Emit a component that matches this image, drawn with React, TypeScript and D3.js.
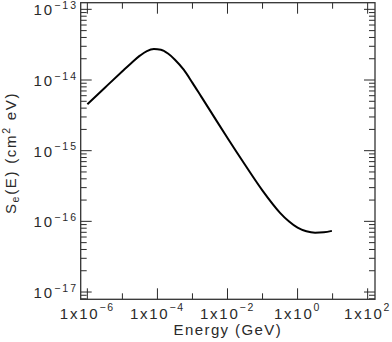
import React from "react";
import * as d3 from "d3";

// Energy (GeV) and electronic stopping S_e(E) (cm^2 eV)
const energy = [1.0e-6, 3.16e-6, 1.0e-5, 1.78e-5, 3.16e-5, 5.01e-5, 7.94e-5, 1.26e-4, 2.0e-4, 3.16e-4, 5.62e-4, 1.0e-3, 1.78e-3, 3.16e-3, 1.0e-2, 3.16e-2, 0.1, 0.316, 0.562, 1.0, 1.78, 3.16, 5.62, 9.55];
const stopping = [4.53e-15, 7.78e-15, 1.33e-14, 1.73e-14, 2.21e-14, 2.57e-14, 2.74e-14, 2.68e-14, 2.37e-14, 1.94e-14, 1.40e-14, 9.12e-15, 5.82e-15, 3.72e-15, 1.51e-15, 6.31e-16, 2.72e-16, 1.32e-16, 1.0e-16, 8.13e-17, 7.24e-17, 6.92e-17, 7.0e-17, 7.33e-17];

const xMajorExp = [-6, -4, -2, 0, 2];
const xMinorExp = [-5, -3, -1, 1];
const yMajorExp = [-13, -14, -15, -16, -17];

const W = 392, H = 342;
const L = 80.7, R = 375, T = 2.7, B = 299.3;
const FONT = "'Liberation Sans', Arial, sans-serif";
const INK = "#2a2a2a";
const FS = 15, SUP = 10.5;

export default function App() {
  const x = d3.scaleLog().domain([10 ** -6.19, 10 ** 2.21]).range([L, R]);
  const y = d3.scaleLog().domain([10 ** -17.103, 10 ** -12.906]).range([B, T]);

  const pts: [number, number][] = energy.map((e, i) => [x(e), y(stopping[i])]);
  const line = d3.line().curve(d3.curveMonotoneX)(pts) || "";

  const yMinor: number[] = [];
  for (let p = -18; p <= -13; p++) for (let k = 2; k <= 9; k++) {
    const yy = y(k * 10 ** p);
    if (yy >= T && yy <= B) yMinor.push(yy);
  }
  const MAJ = 11, MIN = 6;

  return (
    <svg width={W} height={H} style={{ position: "absolute", left: 0, top: 0, background: "#fff" }}>
      <g stroke={INK} strokeWidth={1}>
        {xMajorExp.map((p) => {
          const xx = x(10 ** p);
          return (
            <g key={"xm" + p}>
              <line x1={xx} x2={xx} y1={B} y2={B - MAJ} />
              <line x1={xx} x2={xx} y1={T} y2={T + MAJ} />
            </g>
          );
        })}
        {xMinorExp.map((p) => {
          const xx = x(10 ** p);
          return (
            <g key={"xn" + p}>
              <line x1={xx} x2={xx} y1={B} y2={B - MIN} />
              <line x1={xx} x2={xx} y1={T} y2={T + MIN} />
            </g>
          );
        })}
        {yMajorExp.map((p) => {
          const yy = y(10 ** p);
          return (
            <g key={"ym" + p}>
              <line x1={L} x2={L + MAJ} y1={yy} y2={yy} />
              <line x1={R} x2={R - MAJ} y1={yy} y2={yy} />
            </g>
          );
        })}
        {yMinor.map((yy, i) => (
          <g key={"yn" + i}>
            <line x1={L} x2={L + MIN} y1={yy} y2={yy} />
            <line x1={R} x2={R - MIN} y1={yy} y2={yy} />
          </g>
        ))}
      </g>
      <rect x={L} y={T} width={R - L} height={B - T} fill="none" stroke="#333" strokeWidth={1.3} />
      <path d={line} fill="none" stroke="#000" strokeWidth={2} strokeLinejoin="round" />

      <g fontFamily={FONT} fill={INK} fontSize={FS} style={{ letterSpacing: "1.75px" }}>
        {xMajorExp.map((p) => (
          <text key={"xl" + p} x={x(10 ** p)} y={318.5} textAnchor="middle">
            1x10<tspan fontSize={SUP} dy={-7.5}>{p < 0 ? "\u2212" + -p : String(p)}</tspan>
          </text>
        ))}
      </g>
      <g fontFamily={FONT} fill={INK} fontSize={FS} style={{ letterSpacing: "2px" }}>
        {yMajorExp.map((p) => (
          <text key={"yl" + p} x={78} y={y(10 ** p) + 6} textAnchor="end">
            10<tspan fontSize={SUP} dy={-6.5}>{"\u2212" + -p}</tspan>
          </text>
        ))}
      </g>
      <text x={(L + R) / 2} y={334.5} textAnchor="middle" fontFamily={FONT} fontSize={FS} fill={INK} style={{ letterSpacing: "1.4px" }}>
        Energy (GeV)
      </text>
      <text transform={`translate(16,${(T + B) / 2 + 2}) rotate(-90)`} textAnchor="middle" fontFamily={FONT} fontSize={FS} fill={INK} style={{ letterSpacing: "1.7px" }}>
        S<tspan fontSize={SUP} dy={3}>e</tspan><tspan dy={-3}>(E)  (cm</tspan><tspan fontSize={SUP} dy={-6.5}>2</tspan><tspan dy={6.5}> eV)</tspan>
      </text>
    </svg>
  );
}
